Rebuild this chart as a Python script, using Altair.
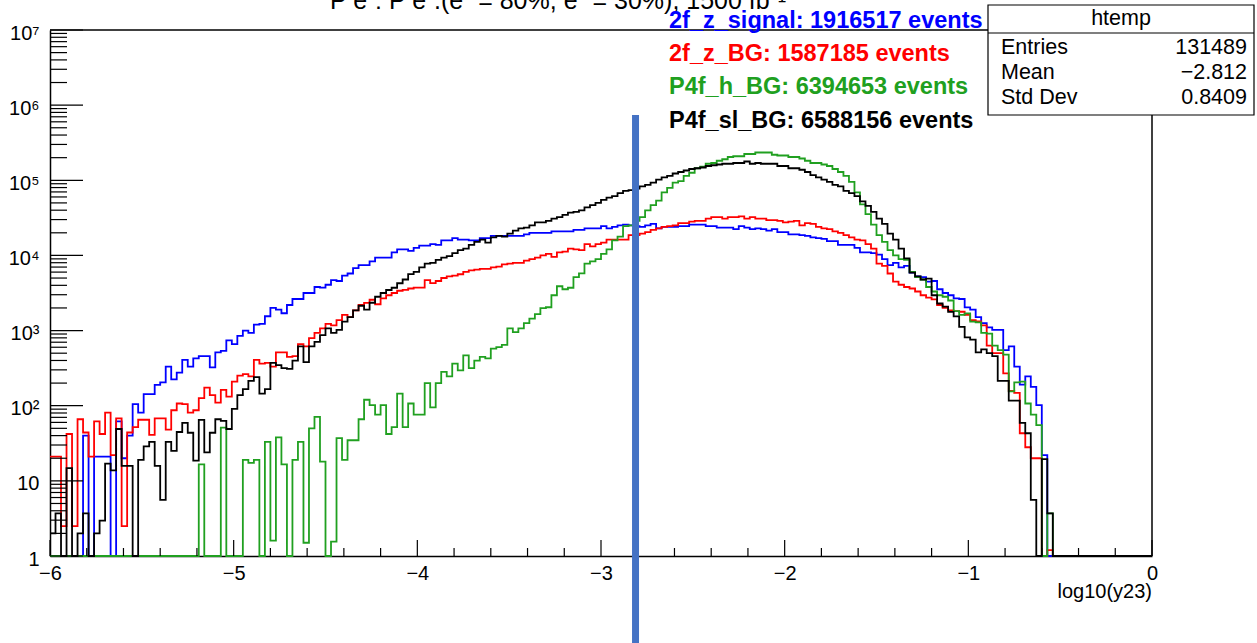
import altair as alt
import numpy as np
import pandas as pd

# ---------------- data ----------------
N_BINS = 200
X_MIN, X_MAX = -6.0, 0.0

series_names = ["2f_z_signal", "2f_z_BG", "P4f_h_BG", "P4f_sl_BG"]
series_events = [1916517, 1587185, 6394653, 6588156]
series_colors = ["#0000ff", "#ff0000", "#20a020", "#000000"]

blue_counts = [
    0, 0, 0, 0, 0, 0, 40, 0, 21, 21,
    21, 0, 62, 20, 40, 105, 81, 143, 143, 189,
    204, 331, 224, 275, 407, 331, 427, 457, 457, 324,
    513, 537, 741, 661, 851, 1000, 933, 1200, 1230, 1550,
    2000, 1900, 1700, 2190, 2630, 2630, 3160, 3160, 3800, 3720,
    4070, 4680, 4570, 5370, 5750, 6760, 7410, 7410, 8320, 9330,
    9330, 9330, 10960, 12020, 12020, 11480, 12590, 13490, 13490, 14130,
    13800, 15850, 15850, 16980, 16220, 16220, 15850, 15850, 16980, 16980,
    18200, 18200, 18200, 18200, 18200, 18200, 19050, 19950, 19950, 19950,
    19950, 20890, 20890, 20890, 20890, 21880, 21880, 22910, 22910, 22910,
    24550, 22910, 23990, 25120, 25700, 25120, 24550, 23990, 25120, 26300,
    22910, 23990, 23990, 23990, 24550, 24550, 25700, 25700, 25700, 24550,
    24550, 23440, 23440, 23440, 22390, 24550, 23440, 22390, 22910, 22390,
    21380, 22390, 20420, 20420, 19050, 19050, 18620, 18200, 17380, 16980,
    16600, 15490, 15490, 13800, 13800, 13800, 12590, 10960, 10960, 10720,
    10230, 8910, 7410, 7940, 6920, 7240, 5890, 5250, 5130, 4470,
    4570, 3550, 3160, 2950, 2690, 2630, 2040, 1900, 1510, 1260,
    1100, 1020, 1020, 550, 617, 331, 191, 245, 178, 102,
    22, 0,
]

red_counts = [
    21, 21, 2.5, 42, 2.5, 66, 44, 21, 62, 42,
    81, 22, 68, 2.5, 44, 52, 65, 65, 41, 68,
    68, 48, 87, 107, 105, 81, 87, 126, 174, 138,
    110, 162, 132, 209, 251, 263, 245, 407, 363, 372,
    331, 513, 513, 447, 457, 661, 617, 794, 933, 1072,
    1230, 1175, 1380, 1620, 1510, 1860, 2190, 2340, 2570, 2240,
    2690, 2950, 3160, 3390, 3470, 3630, 3720, 3720, 4680, 4270,
    4570, 5010, 5250, 5370, 5620, 6030, 6310, 6460, 6610, 6610,
    6920, 7080, 7590, 7760, 7940, 7940, 8510, 8910, 9330, 10000,
    10470, 9550, 10960, 11220, 12300, 12020, 11750, 14130, 13180, 14130,
    14790, 16220, 16220, 16220, 16220, 18620, 18620, 19500, 20420, 21880,
    22910, 23990, 24550, 25120, 26920, 26920, 28180, 28840, 28840, 30900,
    32360, 32360, 30900, 32360, 32360, 33110, 30900, 32360, 30900, 30900,
    29510, 29510, 28840, 27540, 28180, 28840, 25120, 26920, 26300, 23990,
    22910, 22390, 20890, 19950, 18620, 17380, 16220, 15850, 14130, 12300,
    7760, 7240, 5750, 4470, 4070, 3800, 3630, 3310, 2950, 2750,
    2600, 2190, 2000, 1860, 1820, 1780, 1620, 1380, 1320, 1175,
    630, 500, 500, 270, 158, 148, 43, 28, 20, 20,
    0, 1.2,
]

green_counts = [
    0, 0, 0, 0, 0, 0, 0, 0, 0, 0,
    0, 0, 0, 0, 0, 0, 0, 0, 0, 0,
    0, 0, 0, 0, 0, 0, 0, 16.6, 0, 0,
    0, 51, 0, 0, 0, 19, 17.4, 19, 0, 33,
    1.6, 38, 16.6, 0, 19, 33, 1.5, 50, 71, 18,
    0, 1.55, 37, 19, 34.7, 34.7, 66, 120, 102, 76,
    102, 42, 52, 145, 52, 107, 76, 76, 200, 95,
    200, 282, 245, 363, 295, 468, 316, 398, 447, 427,
    575, 603, 646, 1072, 955, 1072, 1259, 1445, 1660, 1995,
    2042, 2951, 3890, 3548, 3715, 5129, 5754, 7762, 8318, 8913,
    10471, 12023, 15849, 17783, 24547, 25119, 28840, 32359, 39811, 46774,
    53703, 69183, 79433, 93325, 97724, 114815, 125893, 144544, 151356, 165959,
    169824, 181970, 190546, 204174, 208930, 208930, 223872, 223872, 234423, 234423,
    234423, 218776, 213796, 213796, 204174, 204174, 194984, 181970, 169824, 169824,
    162181, 154882, 141254, 128825, 114815, 95499, 69183, 47863, 35481, 25704,
    18621, 15136, 11749, 10000, 8913, 8710, 6026, 5129, 4786, 3802,
    3311, 2951, 2818, 2512, 1820, 1622, 1698, 1318, 1288, 933,
    912, 631, 550, 479, 155, 204, 209, 107, 76, 55,
    0, 3.7,
]

black_counts = [
    2.0, 3.7, 0, 14.8, 0, 2.0, 3.7, 0, 2.0, 2.95,
    17, 13.8, 49, 15.8, 15.8, 0, 19, 28.8, 33, 15.8,
    5.6, 33, 25, 44.7, 59, 43.7, 18.6, 64.6, 24, 43.7,
    66, 63, 49, 91, 138, 166, 214, 240, 145, 166,
    372, 347, 316, 309, 398, 617, 380, 617, 708, 871,
    1072, 933, 1023, 1318, 1514, 1862, 2138, 1905, 2344, 2818,
    3162, 3467, 3715, 4266, 4786, 5623, 6026, 6918, 7762, 7943,
    8710, 9333, 9772, 10715, 11749, 12303, 13804, 15136, 16218, 14791,
    17378, 18197, 17783, 19498, 21380, 22909, 23442, 25119, 27542, 27542,
    28840, 30903, 32359, 34674, 37154, 38019, 39811, 43652, 46774, 50119,
    54954, 58884, 61660, 67608, 72444, 74131, 77625, 83176, 87096, 93325,
    102329, 109648, 114815, 123027, 128825, 134896, 141254, 144544, 147911, 154882,
    158489, 162181, 165959, 165959, 169824, 169824, 177828, 165959, 169824, 165959,
    165959, 165959, 154882, 154882, 144544, 144544, 138038, 128825, 117490, 109648,
    102329, 95499, 87096, 83176, 72444, 67608, 61660, 52481, 45709, 38019,
    30903, 26303, 19498, 16218, 12303, 9120, 5888, 5248, 4786, 4898,
    2951, 2291, 2089, 1778, 1549, 1122, 813, 759, 513, 562,
    501, 457, 214, 214, 117, 117, 59, 43, 5.6, 0,
    19.5, 3.7,
]

stats_labels = ["Entries", "Mean", "Std Dev"]
stats_values = ["131489", "\u22122.812", "0.8409"]
mean_value = -2.812

x_major = [-6, -5, -4, -3, -2, -1, 0]
y_major = [1, 10, 100, 1000, 10000, 100000, 1000000, 10000000]

title_text = "P e\u207b: P e\u207a.(e\u207b = 80%, e\u207a = 30%), 1500 fb\u207b\u00b9"
x_title = "log10(y23)"

# ---------------- geometry / helpers ----------------
W, H = 1102, 526
FONT = "Liberation Sans"

bin_w = (X_MAX - X_MIN) / N_BINS
edges = X_MIN + bin_w * np.arange(N_BINS + 1)


def hist_frame(counts):
    c = list(counts) + [0] * (N_BINS - len(counts))
    vals = [max(float(v), 1.0) for v in c]  # empty bins sit on the axis floor
    return pd.DataFrame({"x": list(edges[:-1]) + [X_MAX], "y": vals + [vals[-1]]})


xs = alt.Scale(domain=[X_MIN, X_MAX], nice=False, zero=False)
ys = alt.Scale(type="log", domain=[1, 1e7], nice=False)

x_axis = alt.Axis(values=x_major, format="d", ticks=False, grid=False, domain=True,
                  domainColor="black", domainWidth=1.5, labelFont=FONT, labelFontSize=20,
                  labelColor="black", labelPadding=7, labelOverlap=False, labelFlush=False,
                  title=None)
y_axis = alt.Axis(values=y_major, ticks=False, grid=False, domain=True,
                  domainColor="black", domainWidth=1.5, labelFont=FONT, labelFontSize=20,
                  labelColor="black", labelPadding=11, labelOverlap=False, labelFlush=False,
                  labelOffset=3, title=None,
                  labelExpr="datum.value < 5 ? '1' : datum.value < 50 ? '10' : '10' + "
                            "['','','\u00b2','\u00b3','\u2074','\u2075','\u2076','\u2077']"
                            "[round(log(datum.value)/LN10)]")

layers = []
all_counts = [blue_counts, red_counts, green_counts, black_counts]
for i, (counts, col) in enumerate(zip(all_counts, series_colors)):
    layers.append(
        alt.Chart(hist_frame(counts)).mark_line(
            interpolate="step-after", color=col, strokeWidth=1.8
        ).encode(
            x=alt.X("x:Q", scale=xs, axis=x_axis),
            y=alt.Y("y:Q", scale=ys, axis=y_axis),
        )
    )

# inward ticks (ROOT style)
x_minor = [round(X_MIN + 0.2 * k, 1) for k in range(31) if k % 5 != 0]
y_minor = [m * 10 ** e for e in range(7) for m in range(2, 10)]

tick_layers = [
    alt.Chart(pd.DataFrame({"x": x_major})).mark_rule(color="black", strokeWidth=1.2).encode(
        x=alt.X("x:Q", scale=xs, axis=x_axis), y=alt.value(H), y2=alt.value(H - 16)),
    alt.Chart(pd.DataFrame({"x": x_minor})).mark_rule(color="black", strokeWidth=1.2).encode(
        x=alt.X("x:Q", scale=xs, axis=x_axis), y=alt.value(H), y2=alt.value(H - 8)),
    alt.Chart(pd.DataFrame({"y": y_major})).mark_rule(color="black", strokeWidth=1.2).encode(
        y=alt.Y("y:Q", scale=ys, axis=y_axis), x=alt.value(0), x2=alt.value(33)),
    alt.Chart(pd.DataFrame({"y": y_minor})).mark_rule(color="black", strokeWidth=1.2).encode(
        y=alt.Y("y:Q", scale=ys, axis=y_axis), x=alt.value(0), x2=alt.value(17)),
]

one = pd.DataFrame({"a": [0]})
frame_layers = [
    alt.Chart(one).mark_rule(color="black", strokeWidth=1.5).encode(
        x=alt.value(0), x2=alt.value(W), y=alt.value(0)),
    alt.Chart(one).mark_rule(color="black", strokeWidth=1.5).encode(
        x=alt.value(W), y=alt.value(0), y2=alt.value(H)),
]

# title (cut by the top of the canvas, as in the reference)
title_layer = alt.Chart(one).mark_text(
    font=FONT, fontSize=25, align="left", baseline="alphabetic", color="black"
).encode(x=alt.value(280), y=alt.value(-21), text=alt.value(title_text))

xtitle_layer = alt.Chart(one).mark_text(
    font=FONT, fontSize=20, align="right", baseline="middle", color="black"
).encode(x=alt.value(W), y=alt.value(562), text=alt.value(x_title))

# legend texts
legend_layers = []
for i, (nm, ev, col) in enumerate(zip(series_names, series_events, series_colors)):
    legend_layers.append(
        alt.Chart(one).mark_text(
            font=FONT, fontSize=23.5, fontWeight="bold", align="left", baseline="middle", color=col
        ).encode(x=alt.value(619), y=alt.value(-9 + 33.2 * i), text=alt.value(f"{nm}: {ev} events"))
    )

# stats box
BX0, BX1, BY0, BY1 = 938, 1204, -25, 85
stats_layers = [
    alt.Chart(one).mark_rect(fill="white", stroke="black", strokeWidth=1.2).encode(
        x=alt.value(BX0), x2=alt.value(BX1), y=alt.value(BY0), y2=alt.value(BY1)),
    alt.Chart(one).mark_rule(color="black", strokeWidth=1.2).encode(
        x=alt.value(BX0), x2=alt.value(BX1), y=alt.value(3)),
    alt.Chart(one).mark_text(font=FONT, fontSize=21.5, align="center", baseline="middle",
                             color="black").encode(
        x=alt.value((BX0 + BX1) / 2), y=alt.value(-11), text=alt.value("htemp")),
]
for i, (lab, val) in enumerate(zip(stats_labels, stats_values)):
    stats_layers.append(
        alt.Chart(one).mark_text(font=FONT, fontSize=21.5, align="left", baseline="middle",
                                 color="black").encode(
            x=alt.value(BX0 + 13), y=alt.value(17.5 + 25.2 * i), text=alt.value(lab)))
    stats_layers.append(
        alt.Chart(one).mark_text(font=FONT, fontSize=21.5, align="right", baseline="middle",
                                 color="black").encode(
            x=alt.value(BX1 - 7), y=alt.value(17.5 + 25.2 * i), text=alt.value(val)))

# overlaid thick marker line at the mean
mean_layer = alt.Chart(pd.DataFrame({"x": [mean_value]})).mark_rule(
    color="#4472c4", strokeWidth=7
).encode(x=alt.X("x:Q", scale=xs, axis=x_axis), y=alt.value(85), y2=alt.value(613))

chart = alt.layer(
    *layers, *tick_layers, *frame_layers, title_layer, xtitle_layer,
    *legend_layers, *stats_layers, mean_layer
).properties(
    width=W, height=H,
    padding={"left": 50, "top": 30, "right": 105, "bottom": 87},
    autosize=alt.AutoSizeParams(type="none"),
    background="white",
).configure_view(stroke=None)

chart.save("out.html", embed_options={"renderer": "svg", "actions": False})
